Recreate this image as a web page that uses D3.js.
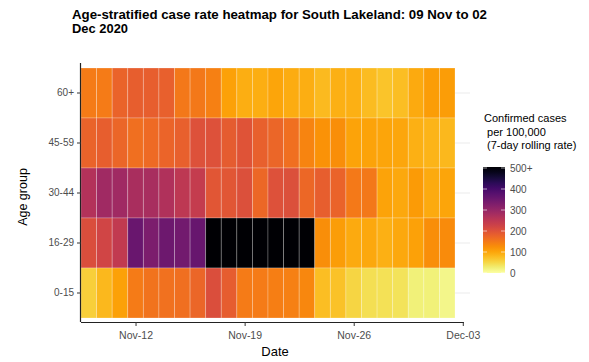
<!DOCTYPE html>
<html>
<head>
<meta charset="utf-8">
<script src="https://cdn.jsdelivr.net/npm/d3@7"></script>
<style>
  html, body { margin: 0; padding: 0; background: #fff; }
  svg { display: block; font-family: "Liberation Sans", Arial, sans-serif; }
</style>
</head>
<body>
<svg id="chart" width="589" height="362"></svg>
<script>
// ---- data ----
const startDate = "2020-11-09";
const nDays = 24; // 09 Nov .. 02 Dec
const ageGroups = ["60+", "45-59", "30-44", "16-29", "0-15"];
const rate60plus = [145,145,175,180,180,178,150,150,140,105,90,90,100,92,90,80,88,88,78,70,75,95,108,108];
const rate45_59  = [175,180,170,160,165,172,178,200,200,185,197,178,170,160,135,120,125,103,103,100,98,88,85,82];
const rate30_44  = [260,285,285,272,275,265,248,238,193,193,203,168,200,202,168,180,175,148,150,102,97,110,95,100];
const rate16_29  = [205,220,242,352,330,347,340,355,540,540,540,540,540,540,540,125,108,95,97,88,97,104,125,127];
const rate0_15   = [58,82,105,145,155,157,160,170,205,183,145,145,142,140,132,75,72,52,42,40,38,22,22,15];
const seriesByAge = { "60+": rate60plus, "45-59": rate45_59, "30-44": rate30_44, "16-29": rate16_29, "0-15": rate0_15 };
const xTickLabels = ["Nov-12", "Nov-19", "Nov-26", "Dec-03"];
const xTickDates = ["2020-11-12", "2020-11-19", "2020-11-26", "2020-12-03"];
const legendTicks = [0, 100, 200, 300, 400, 500];
const legendTickLabels = ["0", "100", "200", "300", "400", "500+"];
const titleLines = ["Age-stratified case rate heatmap for South Lakeland: 09 Nov to 02", "Dec 2020"];
const legendTitle = ["Confirmed cases", " per 100,000", " (7-day rolling rate)"];

// ---- build table ----
const parse = d3.utcParse("%Y-%m-%d");
const day0 = parse(startDate);
const cells = [];
ageGroups.forEach(g => {
  seriesByAge[g].forEach((v, i) => {
    cells.push({ age: g, date: d3.utcDay.offset(day0, i), value: v });
  });
});

const svg = d3.select("#chart");
const panel = { left: 81, right: 470, top: 63, bottom: 322 };

const x = d3.scaleUtc()
  .domain([d3.utcHour.offset(day0, -12), d3.utcHour.offset(d3.utcDay.offset(day0, nDays - 1), 12)])
  .range([81, 455]);
const dayW = x(d3.utcDay.offset(day0, 1)) - x(day0);
const y = d3.scaleBand().domain(ageGroups).range([68, 318]);

const color = v => d3.interpolateInferno(1 - Math.min(v, 500) / 500);

// grid lines
svg.append("g").selectAll("line").data(ageGroups).join("line")
  .attr("x1", panel.left).attr("x2", panel.right)
  .attr("y1", d => y(d) + y.bandwidth() / 2).attr("y2", d => y(d) + y.bandwidth() / 2)
  .attr("stroke", "#ebebeb").attr("stroke-width", 1);

// tiles
svg.append("g").selectAll("rect").data(cells).join("rect")
  .attr("x", d => x(d.date) - dayW / 2)
  .attr("y", d => y(d.age))
  .attr("width", dayW)
  .attr("height", y.bandwidth())
  .attr("fill", d => color(d.value))
  .attr("stroke", "#ffffff")
  .attr("stroke-opacity", 0.3)
  .attr("stroke-width", 0.8);

// axes
const xAxis = d3.axisBottom(x)
  .tickValues(xTickDates.map(parse))
  .tickFormat((d, i) => xTickLabels[i])
  .tickSize(4).tickSizeOuter(0);
const gx = svg.append("g").attr("transform", `translate(0,${panel.bottom})`).call(xAxis);
gx.select(".domain").attr("d", `M${panel.left},0.5H464`).attr("stroke", "#222").attr("stroke-width", 1.2);
gx.selectAll(".tick line").attr("stroke", "#333");
gx.selectAll(".tick text").attr("fill", "#4d4d4d").attr("font-size", 10.5).attr("dy", "0.95em")
  .attr("font-family", "Liberation Sans, Arial, sans-serif");

const yAxis = d3.axisLeft(y).tickSize(4).tickSizeOuter(0);
const gy = svg.append("g").attr("transform", `translate(${panel.left},0)`).call(yAxis);
gy.select(".domain").attr("d", `M-0.5,${panel.top}V${panel.bottom}`).attr("stroke", "#222").attr("stroke-width", 1.2);
gy.selectAll(".tick line").attr("stroke", "#333");
gy.selectAll(".tick text").attr("fill", "#4d4d4d").attr("font-size", 10).attr("x", -7)
  .attr("font-family", "Liberation Sans, Arial, sans-serif");

// axis titles
svg.append("text").attr("x", 275).attr("y", 356).attr("text-anchor", "middle")
  .attr("font-size", 13).attr("fill", "#000").text("Date");
svg.append("text").attr("transform", "translate(27,197) rotate(-90)").attr("text-anchor", "middle")
  .attr("font-size", 12.5).attr("fill", "#000").text("Age group");

// title
const tl = svg.append("g");
tl.append("text").attr("x", 72).attr("y", 19).attr("font-size", 12.5).attr("font-weight", "bold")
  .attr("textLength", 415).attr("lengthAdjust", "spacingAndGlyphs").text(titleLines[0]);
tl.append("text").attr("x", 72).attr("y", 33).attr("font-size", 12.5).attr("font-weight", "bold")
  .attr("textLength", 56).attr("lengthAdjust", "spacingAndGlyphs").text(titleLines[1]);

// legend
const lg = svg.append("g");
legendTitle.forEach((t, i) => {
  lg.append("text").attr("x", 484).attr("y", 122 + i * 13.5).attr("font-size", 11)
    .attr("fill", "#000").attr("xml:space", "preserve").style("white-space", "pre").text(t);
});
const ly = d3.scaleLinear().domain([0, 500]).range([273, 168]);
const defs = svg.append("defs");
const grad = defs.append("linearGradient").attr("id", "lgrad")
  .attr("x1", 0).attr("x2", 0).attr("y1", 1).attr("y2", 0);
d3.range(0, 1.0001, 0.05).forEach(t => {
  grad.append("stop").attr("offset", t).attr("stop-color", color(t * 500));
});
lg.append("rect").attr("x", 483).attr("y", ly(500) - 1).attr("width", 22).attr("height", ly(0) - ly(500) + 1)
  .attr("fill", "url(#lgrad)");
lg.selectAll("line.tk").data(legendTicks).join("line").attr("class", "tk")
  .attr("x1", 483).attr("x2", 487).attr("y1", d => ly(d)).attr("y2", d => ly(d))
  .attr("stroke", "#fff").attr("stroke-opacity", 0.6);
lg.selectAll("line.tk2").data(legendTicks).join("line").attr("class", "tk2")
  .attr("x1", 501).attr("x2", 505).attr("y1", d => ly(d)).attr("y2", d => ly(d))
  .attr("stroke", "#fff").attr("stroke-opacity", 0.6);
lg.selectAll("text.lab").data(legendTicks).join("text").attr("class", "lab")
  .attr("x", 510).attr("y", d => ly(d)).attr("dy", "0.35em").attr("font-size", 10)
  .attr("fill", "#4d4d4d").text((d, i) => legendTickLabels[i]);
</script>
</body>
</html>
